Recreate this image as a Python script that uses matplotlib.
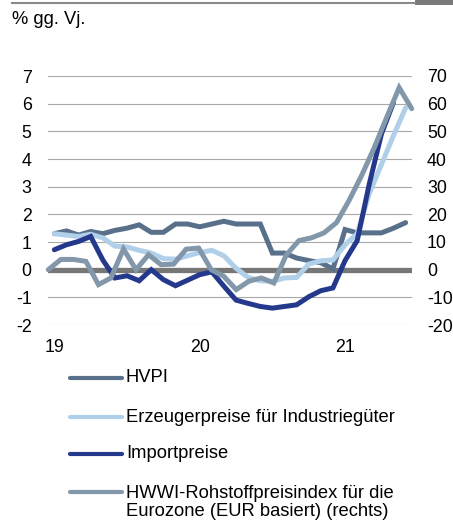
import matplotlib.pyplot as plt
from matplotlib.lines import Line2D
from matplotlib.patches import Rectangle

plt.rcParams['font.family'] = ['Liberation Sans', 'DejaVu Sans']
plt.rcParams['axes.unicode_minus'] = False

# Monatswerte Jan 2019 - Jun 2021 (linke Achse, % gg. Vj.)
jahre = ['19', '20', '21']
jahr_pos = [0, 12, 24]

hvpi = [1.3, 1.4, 1.25, 1.38, 1.3, 1.42, 1.5, 1.62, 1.35, 1.35,
        1.65, 1.65, 1.55, 1.65, 1.75, 1.65, 1.65, 1.65, 0.6, 0.6,
        0.42, 0.33, 0.25, 0.03, 1.45, 1.33, 1.33, 1.33, 1.5, 1.7]
erzeuger = [1.3, 1.25, 1.2, 1.28, 1.15, 0.85, 0.82, 0.7, 0.6, 0.4,
            0.38, 0.5, 0.62, 0.7, 0.5, 0.05, -0.28, -0.4, -0.42, -0.3,
            -0.28, 0.2, 0.32, 0.35, 0.9, 1.3, 2.75, 3.8, 4.85, 5.85]
importpreise = [0.72, 0.9, 1.02, 1.2, 0.35, -0.3, -0.22, -0.4, 0.0, -0.36,
                -0.58, -0.38, -0.18, -0.08, -0.6, -1.1, -1.22, -1.33, -1.39, -1.33,
                -1.27, -0.98, -0.76, -0.66, 0.33, 1.05, 3.1, 4.9, 6.05]
# HWWI (rechte Achse), eigene Kategorienachse
hwwi = [0.0, 3.7, 3.7, 3.0, -5.4, -3.0, 7.5, 0.0, 5.4, 1.8,
        2.0, 7.4, 7.8, 0.0, -2.4, -7.2, -4.2, -3.0, -4.8, 5.4,
        10.5, 11.5, 13.3, 17.0, 25.0, 34.0, 44.0, 55.0, 65.8, 58.2]

namen = ['HVPI', 'Erzeugerpreise für Industriegüter', 'Importpreise',
         'HWWI-Rohstoffpreisindex für die\nEurozone (EUR basiert) (rechts)']
farben = ['#587089', '#b0cfe9', '#25398c', '#8397ab']
fs = 12.8
fs_text = 13.2

W, H = 453, 522
fig = plt.figure(figsize=(W / 100, H / 100), dpi=100)
rect = [48.3 / W, 1 - 325 / H, 363.4 / W, 249 / H]

ax = fig.add_axes(rect)
ax.set_xlim(-0.5, len(hvpi) - 0.5)
ax.set_ylim(-2, 7)
for v in range(-2, 8):
    if v != 0:
        ax.axhline(v, color='#a8a8a8', lw=0.8, zorder=1)
ax.axhline(0, color='#777777', lw=3.8, zorder=2)

for werte, farbe in zip([hvpi, erzeuger, importpreise], farben[:3]):
    ax.plot(range(len(werte)), werte, color=farbe, lw=3.6, zorder=3,
            solid_capstyle='round', solid_joinstyle='miter')

ax.set_yticks(range(-2, 8))
ax.set_xticks(jahr_pos, jahre)
ax.tick_params(axis='both', length=0, labelsize=fs)
ax.tick_params(axis='y', pad=12)
ax.tick_params(axis='x', pad=10)
for s in ax.spines.values():
    s.set_visible(False)

ax2 = fig.add_axes(rect, frameon=False)
ax2.set_xlim(0, len(hwwi) - 1)
ax2.set_ylim(-20, 70)
ax2.plot(range(len(hwwi)), hwwi, color=farben[3], lw=3.6, clip_on=False,
         solid_capstyle='round', solid_joinstyle='miter')
ax2.set_xticks([])
ax2.set_yticks(range(-20, 71, 10))
ax2.yaxis.tick_right()
ax2.tick_params(axis='y', length=0, labelsize=fs, pad=11)

# Kopfzeile
fig.add_artist(Line2D([12 / W, 415 / W], [1 - 2.5 / H] * 2, color='#8a8a8a', lw=1.5))
fig.add_artist(Rectangle((415 / W, 1 - 5 / H), 38 / W, 5 / H, color='#7a7a7a', lw=0))
fig.text(12 / W, 1 - 19 / H, '% gg. Vj.', fontsize=fs_text, va='center', ha='left')

# Legende
zeilen = [378, 417, 454, 492]
for name, farbe, y in zip(namen, farben, zeilen):
    fig.add_artist(Line2D([70 / W, 122 / W], [1 - y / H] * 2, color=farbe, lw=3,
                          solid_capstyle='round'))
    ty = y + 10.5 if '\n' in name else y
    fig.text(126 / W, 1 - ty / H, name, fontsize=fs_text, va='center', ha='left',
             linespacing=1.15)

fig.savefig('out.png', dpi=100)
